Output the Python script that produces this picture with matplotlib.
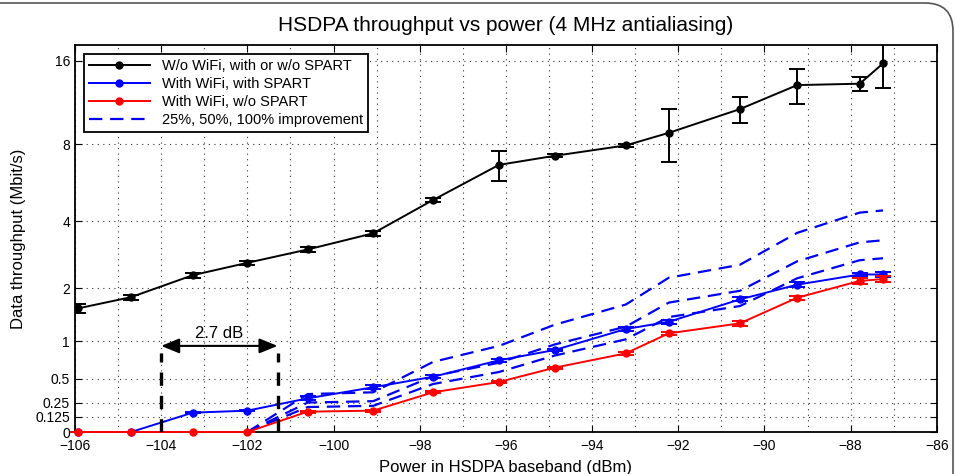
import matplotlib
matplotlib.use('Agg')
import matplotlib.pyplot as plt
import numpy as np
from matplotlib.patches import FancyBboxPatch
from matplotlib.lines import Line2D

plt.rcParams['font.family'] = ['Liberation Sans', 'DejaVu Sans']

# measurement points (dBm)
power = [-105.93, -104.70, -103.27, -102.0, -100.6, -99.08, -97.69, -96.16,
         -94.87, -93.22, -92.22, -90.57, -89.24, -87.79, -87.25]

# W/o WiFi
thr_nowifi = [1.57, 1.80, 2.31, 2.64, 3.03, 3.56, 4.88, 6.69, 7.24, 7.92,
              8.82, 10.77, 13.14, 13.29, 15.68]
err_nowifi = [0.08, 0.05, 0.06, 0.05, 0.08, 0.08, 0.07, 0.87, 0.10, 0.10,
              1.95, 1.15, 1.90, 0.80, 2.80]

# With WiFi, with SPART
thr_spart = [0.0, 0.0, 0.159, 0.177, 0.293, 0.407, 0.525, 0.729, 0.87, 1.195,
             1.32, 1.753, 2.08, 2.33, 2.33]
err_spart = [0.0, 0.0, 0.005, 0.005, 0.02, 0.02, 0.02, 0.02, 0.02, 0.03,
             0.04, 0.04, 0.06, 0.04, 0.06]

# With WiFi, w/o SPART
thr_nospart = [0.0, 0.0, 0.0, 0.0, 0.168, 0.177, 0.354, 0.465, 0.634, 0.823,
               1.124, 1.293, 1.788, 2.17, 2.215]
err_nospart = [0.0, 0.0, 0.0, 0.0, 0.01, 0.01, 0.01, 0.015, 0.015, 0.02,
               0.03, 0.04, 0.04, 0.08, 0.08]

improvements = [1.25, 1.5, 2.0]

xticks = list(range(-106, -85, 2))
yticks = [0, 0.125, 0.25, 0.5, 1, 2, 4, 8, 16]
ytick_labels = ['0', '0.125', '0.25', '0.5', '1', '2', '4', '8', '16']

labels = ['W/o WiFi, with or w/o SPART', 'With WiFi, with SPART',
          'With WiFi, w/o SPART', '25%, 50%, 100% improvement']

fig = plt.figure(figsize=(9.55, 4.74), dpi=100)
ax = fig.add_axes([0.0785, 0.0886, 0.9025, 0.8164])

fwd = lambda y: np.log2(1 + np.clip(y, -0.999, None))
inv = lambda t: 2.0 ** t - 1
ax.set_yscale('function', functions=(fwd, inv))

blue = '#0000ff'
dblue = '#0000ee'

# dashed improvement curves (red curve scaled)
red = np.array(thr_nospart)
for k in improvements:
    ax.plot(power[3:], red[3:] * k, color=dblue, lw=1.6, dashes=(6, 3.5), zorder=2)

kw = dict(marker='o', ms=5, lw=1.4, capsize=6, elinewidth=1.4, capthick=1.4)
ax.errorbar(power, thr_nowifi, yerr=err_nowifi, color='black', zorder=4, **kw)
ax.errorbar(power, thr_spart, yerr=err_spart, color=blue, zorder=3,
            clip_on=False, **kw)
ax.errorbar(power, thr_nospart, yerr=err_nospart, color='#ff0000', zorder=4,
            clip_on=False, **kw)

# 2.7 dB annotation
x_a, x_b = -104.0, -101.3
for xv in (x_a, x_b):
    ax.plot([xv, xv], [0, 0.83], color='black', lw=2.4, dashes=(4, 3), zorder=5)
ax.annotate('', xy=(x_a, 0.93), xytext=(x_b, 0.93),
            arrowprops=dict(arrowstyle='<|-|>,head_length=1.1,head_width=0.45',
                            color='black', lw=1.5, shrinkA=0, shrinkB=0))
ax.text((x_a + x_b) / 2, 1.12, '2.7 dB', ha='center', va='center', fontsize=12)

ax.set_xlim(-106, -86)
ax.set_ylim(0, 18.2)
ax.set_xticks(xticks)
ax.set_xticks(range(-106, -85), minor=True)
ax.set_yticks(yticks)
ax.set_yticklabels(ytick_labels)
ax.yaxis.set_minor_locator(matplotlib.ticker.NullLocator())
ax.tick_params(which='major', direction='in', top=True, right=True,
               length=5, labelsize=10)
ax.tick_params(axis='x', which='major', pad=5)
ax.tick_params(which='minor', length=0)

ax.grid(True, which='both', axis='x', color='#333333', lw=0.8,
        linestyle=(0, (1, 4)))
ax.grid(True, which='major', axis='y', color='#333333', lw=0.8,
        linestyle=(0, (1, 4)))
ax.set_axisbelow(True)
for s in ax.spines.values():
    s.set_linewidth(1.3)

ax.set_xlabel('Power in HSDPA baseband (dBm)', fontsize=12, labelpad=5)
ax.set_ylabel('Data throughput (Mbit/s)', fontsize=12, labelpad=7)
ax.set_title('HSDPA throughput vs power (4 MHz antialiasing)', fontsize=15,
             pad=10)

handles = [Line2D([], [], color='black', marker='o', ms=5, lw=1.4),
           Line2D([], [], color=blue, marker='o', ms=5, lw=1.4),
           Line2D([], [], color='#ff0000', marker='o', ms=5, lw=1.4),
           Line2D([], [], color=dblue, lw=1.6, dashes=(6, 3.5))]
leg = ax.legend(handles, labels, loc='upper left', fontsize=10.5,
                handlelength=4.2, fancybox=False, framealpha=1,
                edgecolor='black', borderpad=0.35, labelspacing=0.28,
                borderaxespad=0.6)
leg.get_frame().set_linewidth(1.3)
leg.set_zorder(10)

# outer frame of the original figure (in inches)
frame = FancyBboxPatch((-0.5, -0.5), 10.03, 5.21, transform=fig.dpi_scale_trans,
                       boxstyle='round,pad=0,rounding_size=0.28',
                       fill=False, edgecolor='#555555', lw=1.2, clip_on=False)
fig.patches.append(frame)

fig.savefig('out.png', dpi=100)
